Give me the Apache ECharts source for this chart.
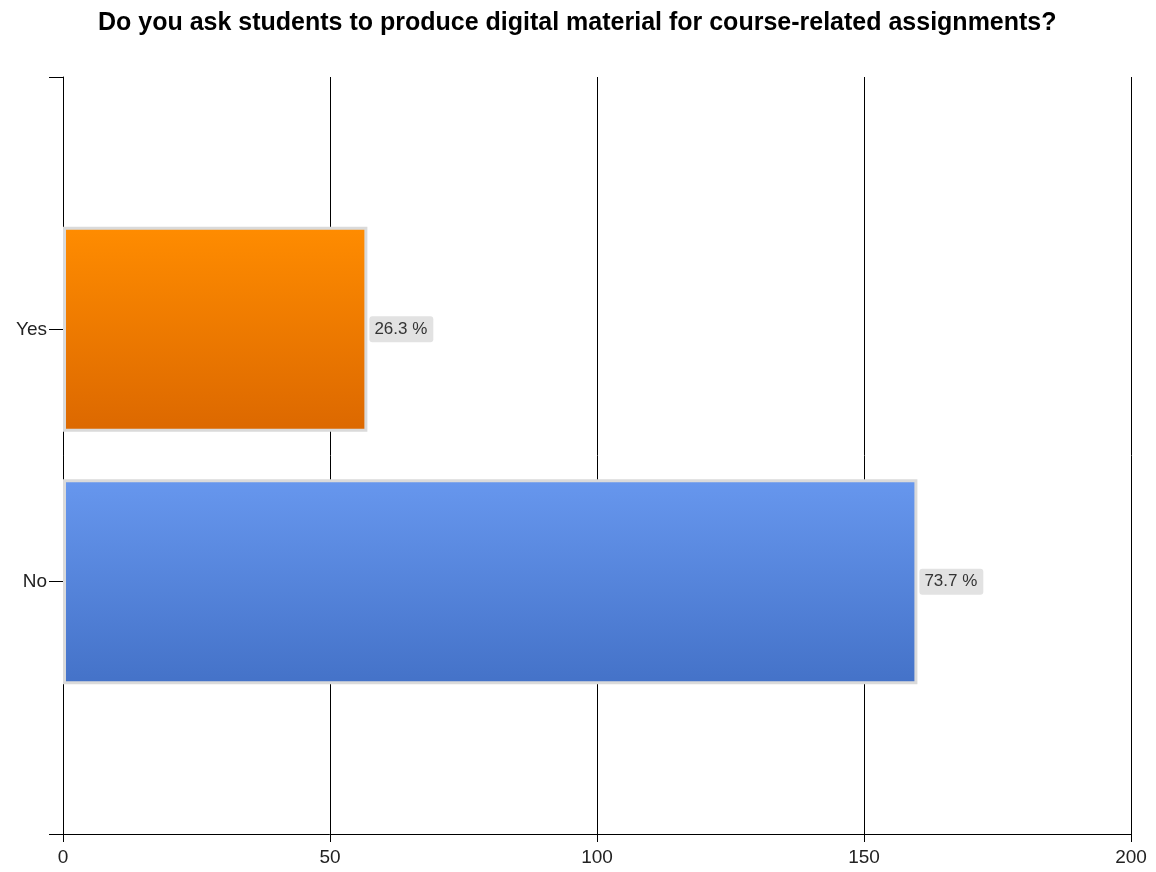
<!DOCTYPE html>
<html>
<head>
<meta charset="utf-8">
<script src="https://cdn.jsdelivr.net/npm/echarts@6/dist/echarts.min.js"></script>
<style>
  html, body { margin: 0; padding: 0; background: #fff; }
  #chart { width: 1156px; height: 872px; }
</style>
</head>
<body>
<div id="chart"></div>
<script>
// Survey answers and response counts
const categories = ['Yes', 'No'];
const counts = [57, 160];
const xTicks = [0, 50, 100, 150, 200];
const titleText = 'Do you ask students to produce digital material for course-related assignments?';

const total = counts.reduce((a, b) => a + b, 0);

// Category slots: an empty slot above and below so ticks fall at band centres
const slotLabels = [''].concat(categories, ['']);
const barColors = [
  ['#ff8c00', '#dc6800'],
  ['#6797ee', '#4472c8']
];

const barData = [null].concat(counts.map((v, i) => ({
  value: v,
  itemStyle: {
    color: {
      type: 'linear', x: 0, y: 0, x2: 0, y2: 1,
      colorStops: [
        { offset: 0, color: barColors[i][0] },
        { offset: 1, color: barColors[i][1] }
      ]
    }
  }
})), [null]);

const font = 'Liberation Sans, Arial, sans-serif';

const chart = echarts.init(document.getElementById('chart'));
chart.setOption({
  animation: false,
  title: {
    text: titleText,
    left: 93,
    top: 6,
    textStyle: {
      fontFamily: font,
      fontSize: 25,
      fontWeight: 'bold',
      color: '#000'
    }
  },
  grid: { left: 63, right: 25, top: 77, bottom: 38 },
  xAxis: {
    type: 'value',
    min: xTicks[0],
    max: xTicks[xTicks.length - 1],
    interval: xTicks[1] - xTicks[0],
    axisLine: { show: true, lineStyle: { color: '#000', width: 1 } },
    axisTick: { show: true, length: 8, lineStyle: { color: '#000' } },
    splitLine: { show: true, lineStyle: { color: '#000', width: 1 } },
    axisLabel: {
      margin: 14,
      fontSize: 19,
      color: '#222',
      fontFamily: font
    }
  },
  yAxis: {
    type: 'category',
    data: slotLabels,
    inverse: true,
    boundaryGap: false,
    axisLine: { show: true, lineStyle: { color: '#000', width: 1 } },
    axisTick: { show: true, length: 14, lineStyle: { color: '#000' } },
    splitLine: { show: false },
    axisLabel: {
      margin: 16,
      fontSize: 19,
      color: '#222',
      fontFamily: font
    }
  },
  series: [{
    type: 'bar',
    data: barData,
    barWidth: 205,
    itemStyle: { borderColor: '#dadada', borderWidth: 3 },
    label: {
      show: true,
      position: 'right',
      distance: 2,
      formatter: p => (p.value / total * 100).toFixed(1) + ' %',
      fontSize: 17,
      color: '#333',
      fontFamily: font,
      backgroundColor: '#e2e2e2',
      borderRadius: 3,
      padding: [5, 6, 4, 5]
    }
  }]
});
</script>
</body>
</html>
